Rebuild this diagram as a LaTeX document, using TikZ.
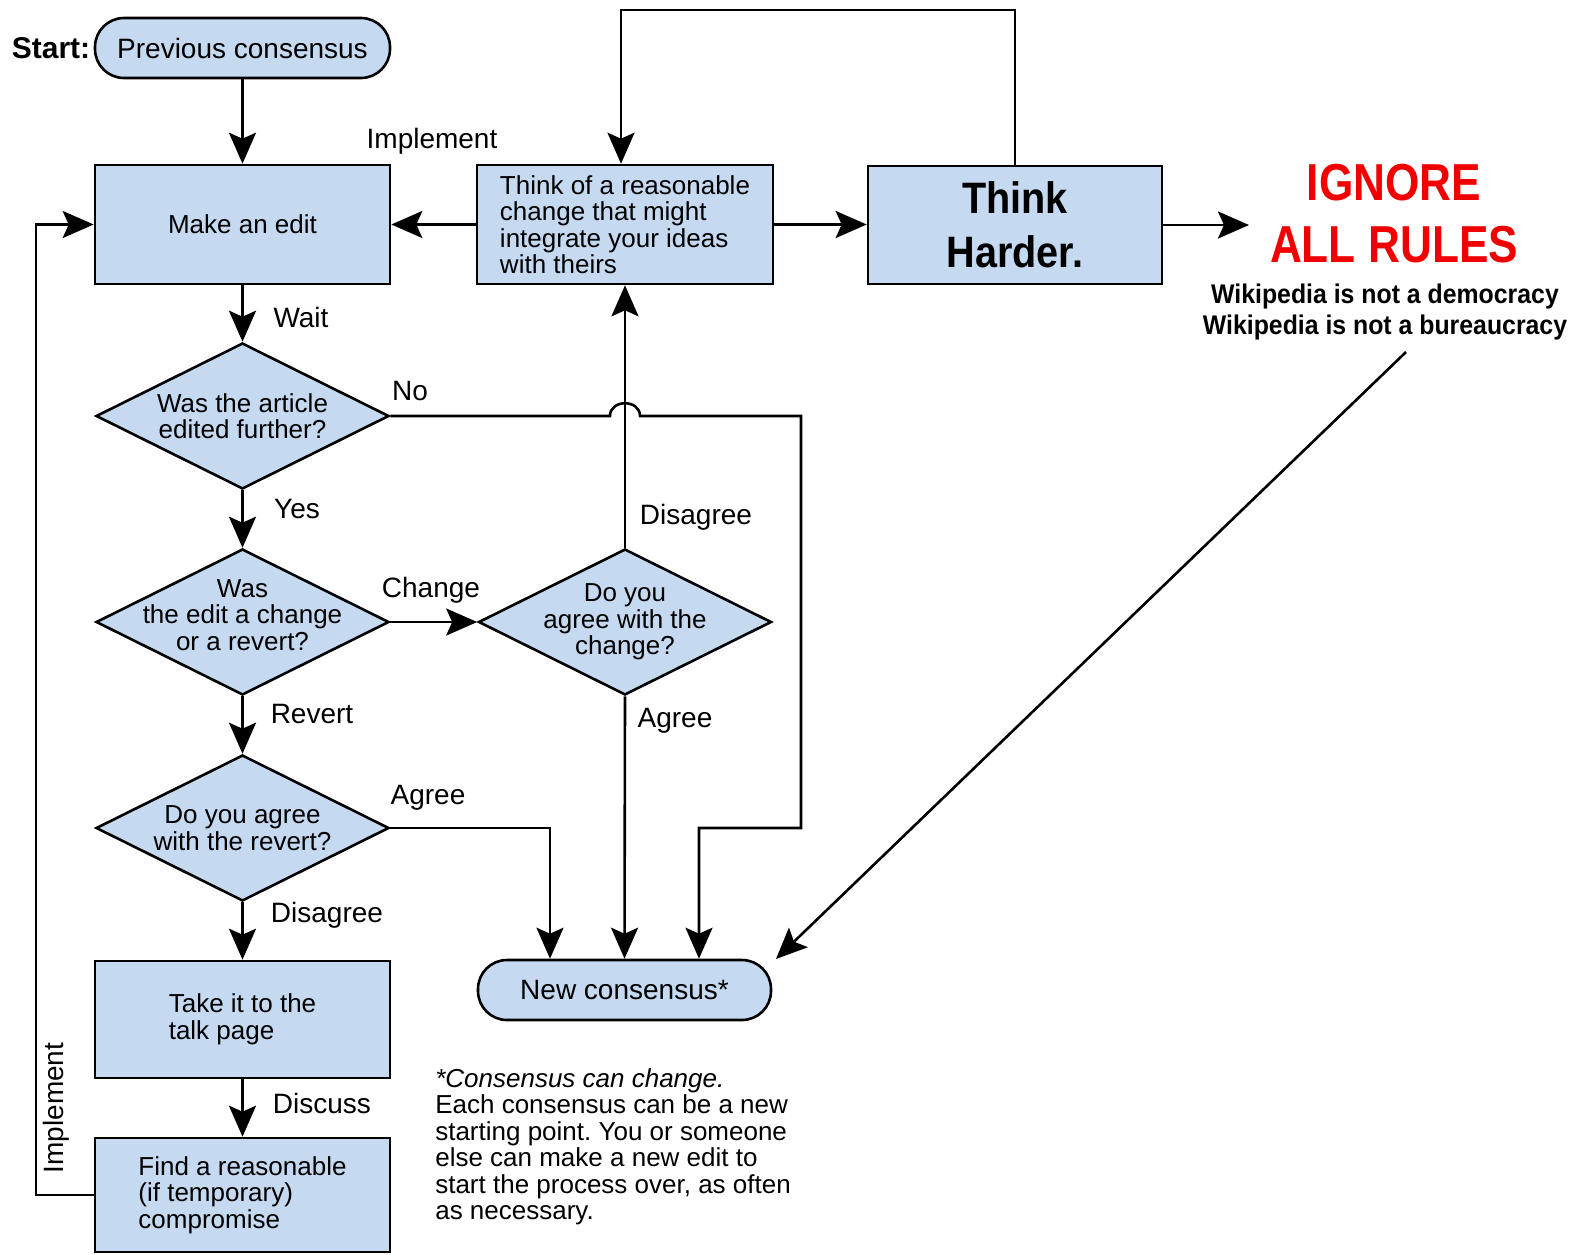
\documentclass[tikz,border=0pt]{standalone}
\usepackage{fontspec}
\setmainfont{Liberation Sans}
\newfontfamily\condfont[FakeStretch=0.85]{Liberation Sans}
\newfontfamily\wikifont[FakeStretch=0.92]{Liberation Sans}
\newfontfamily\thinkfont[FakeStretch=0.9]{Liberation Sans}
\usetikzlibrary{arrows.meta,shapes.geometric,calc}
\definecolor{boxblue}{RGB}{197,217,241}
\definecolor{iarred}{RGB}{240,0,0}
\frenchspacing
\begin{document}
\begin{tikzpicture}[x=1pt,y=-1pt,
 line width=2.6pt,
 arr/.style={-{Stealth[length=31pt,width=27pt,inset=6pt]}},
 box/.style={draw, fill=boxblue, rectangle, minimum width=295pt, minimum height=119pt, inner sep=0pt, align=left, font=\fontsize{26}{26.5}\selectfont},
 pill/.style={draw, fill=boxblue, rectangle, rounded corners=29pt, minimum width=295pt, minimum height=60pt, inner sep=0pt, font=\fontsize{28}{30}\selectfont},
 dia/.style={draw, fill=boxblue, diamond, minimum width=293pt, minimum height=146pt, inner sep=0pt},
 dtext/.style={align=center, inner sep=0pt, font=\fontsize{26}{26.5}\selectfont},
 lbl/.style={inner sep=0pt, font=\fontsize{28}{30}\selectfont},
]
\useasboundingbox (0,0) rectangle (1575,1254);

% nodes
\node[lbl, font=\bfseries\fontsize{30}{32}\selectfont] (start) at (51,48) {Start:};
\node[pill] (prev) at (242.5,48) {Previous consensus};
\node[box] (edit) at (242.5,224.5) {Make an edit};
\node[box, minimum width=296pt] (think) at (625,224.5) {Think of a reasonable\\change that might\\integrate your ideas\\with theirs};
\node[box, minimum width=294pt, minimum height=118pt, align=center, font=\thinkfont\bfseries\fontsize{44}{54}\selectfont] (harder) at (1015,225) {Think\\Harder.};
\node[inner sep=0pt, align=center, text=iarred, font=\condfont\bfseries\fontsize{52}{62}\selectfont] (iar) at (1394,213.5) {IGNORE\\ALL RULES};
\node[inner sep=0pt, align=center, font=\wikifont\bfseries\fontsize{27}{31}\selectfont] (notdem) at (1385,312) {Wikipedia is not a democracy\\Wikipedia is not a bureaucracy};

\node[dia] (d1) at (242.5,416) {};
\node[dtext] (t1) at (d1) {Was the article\\edited further?};
\node[dia] (d2) at (242.5,622) {};
\node[dtext] (t2) at (242.5,615) {Was\\the edit a change\\or a revert?};
\node[dia] (d3) at (625,622) {};
\node[dtext] (t3) at (d3) {Do you\\agree with the\\change?};
\node[dia] (d4) at (242.5,828) {};
\node[dtext] (t4) at (d4) {Do you agree\\with the revert?};

\node[box, minimum height=117pt] (talk) at (242.5,1019.5) {Take it to the\\talk page};
\node[box, minimum height=114pt] (find) at (242.5,1195) {Find a reasonable\\(if temporary)\\compromise};
\node[pill, minimum width=293pt] (newc) at (624.5,990) {New consensus*};

\node[anchor=north west, inner sep=0pt, align=left, font=\fontsize{26}{26.5}\selectfont] (note) at (434,1067)
 {\textit{*Consensus can change.}\\Each consensus can be a new\\starting point. You or someone\\else can make a new edit to\\start the process over, as often\\as necessary.};

% labels
\node[lbl] (limpl) at (432,141) {Implement};
\node[lbl] (lwait) at (301,317) {Wait};
\node[lbl] (lno) at (410,391) {No};
\node[lbl] (lyes) at (297,509) {Yes};
\node[lbl] (ldis1) at (696,517) {Disagree};
\node[lbl] (lchg) at (431,590) {Change};
\node[lbl] (lagr1) at (675,721) {Agree};
\node[lbl] (lrev) at (312,714) {Revert};
\node[lbl] (lagr2) at (428,798) {Agree};
\node[lbl] (ldis2) at (327,915) {Disagree};
\node[lbl] (ldisc) at (322,1103) {Discuss};
\node[lbl, rotate=90] (limpl2) at (56,1108) {Implement};

% coordinates
\coordinate (topL) at (621,10);
\coordinate (iartip) at (1249,225);
\coordinate (diagS) at (1406,352);
\coordinate (diagE) at (776,959);
\coordinate (loopx) at (36,700);
\coordinate (jumpL) at (610,416);
\coordinate (jumpR) at (640,416);
\coordinate (noR) at (801,416);
\coordinate (noB) at (801,828);

% connectors
\draw[arr] (prev.south) -- (edit.north);
\draw[arr] (think.west) -- (edit.east);
\draw[arr] (think.east) -- (think.east -| harder.west);
\draw[arr] (harder.east) -- (iartip);
\draw[arr] (harder.north) |- (topL) -- (think.north -| topL);
\draw[arr] (diagS) -- (diagE);
\draw[arr] (edit.south) -- (d1.north);
\draw[arr] (d1.south) -- (d2.north);
\draw[arr] (d2.south) -- (d4.north);
\draw[arr] (d2.east) -- (d3.west);
\draw[arr] (d3.north) -- (think.south);
\draw[arr] (d3.south) -- (newc.north);
\draw[arr] (d4.south) -- (talk.north);
\draw[arr] (talk.south) -- (find.north);
\draw[arr] (d4.east) -| ([xshift=-74.5pt]newc.north);
\draw[arr] (d1.east) -- (jumpL) .. controls (610,399) and (640,399) .. (jumpR) -- (noR) -- (noB) -| ([xshift=74.5pt]newc.north);
\draw[arr] (find.west) -| (loopx) |- (edit.west);
\end{tikzpicture}
\end{document}
